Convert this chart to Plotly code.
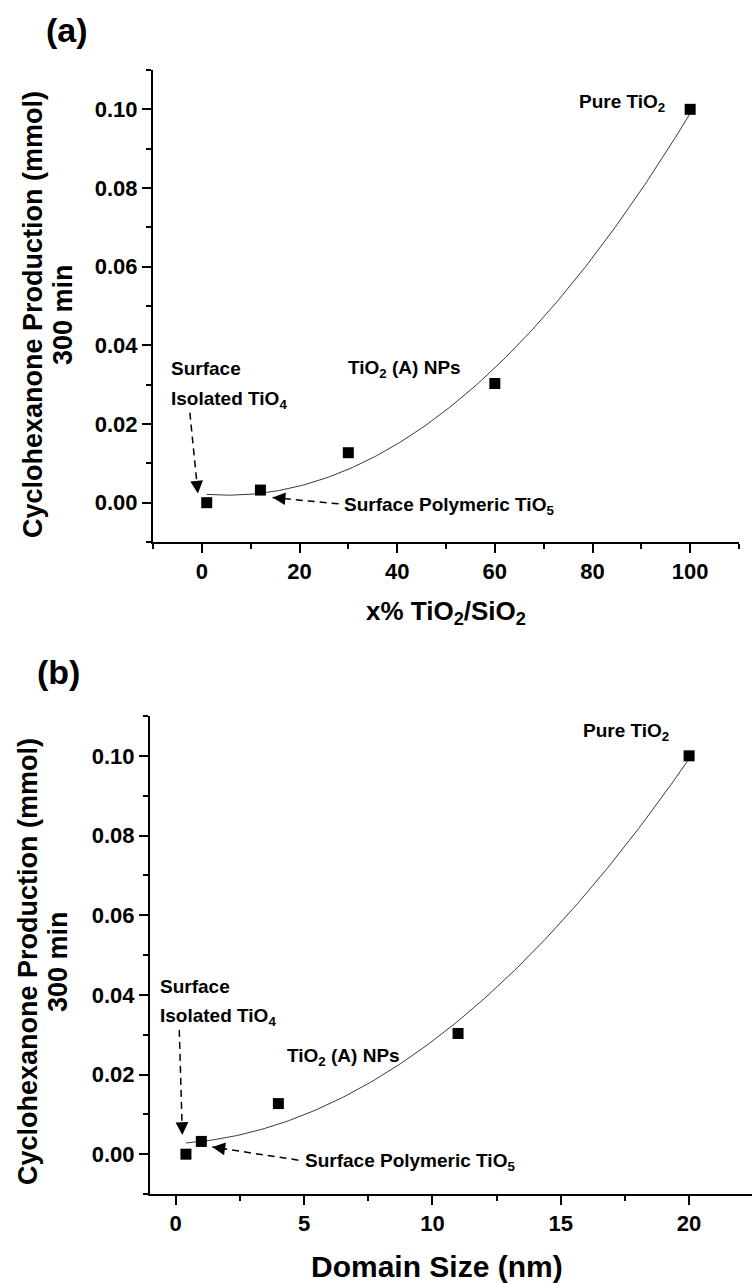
import numpy as np
import plotly.graph_objects as go

# Ti loading (x% TiO2/SiO2), TiO2 domain size (nm) and cyclohexanone produced after 300 min (mmol)
ti_loading_pct = [1, 12, 30, 60, 100]
domain_size_nm = [0.4, 1.0, 4.0, 11.0, 20.0]
cyclohexanone_mmol = [0.0, 0.0032, 0.0127, 0.0303, 0.100]

y_ticks = [0.00, 0.02, 0.04, 0.06, 0.08, 0.10]
y_tick_text = ["0.00", "0.02", "0.04", "0.06", "0.08", "0.10"]

FONT = "Liberation Sans"
W, H = 752, 1283


def quad_fit(x, y, n=200):
    coef = np.polyfit(x, y, 2)
    xs = np.linspace(min(x), max(x), n)
    return xs, np.polyval(coef, xs)


fig = go.Figure()

# panel (a): loading
fx, fy = quad_fit(ti_loading_pct, cyclohexanone_mmol)
fig.add_trace(go.Scatter(x=fx, y=fy, mode="lines", line=dict(color="#3a3a3a", width=1),
                         xaxis="x", yaxis="y", hoverinfo="skip"))
fig.add_trace(go.Scatter(x=ti_loading_pct, y=cyclohexanone_mmol, mode="markers",
                         marker=dict(symbol="square", size=11, color="black"),
                         xaxis="x", yaxis="y"))

# panel (b): domain size
fx2, fy2 = quad_fit(domain_size_nm, cyclohexanone_mmol)
fig.add_trace(go.Scatter(x=fx2, y=fy2, mode="lines", line=dict(color="#3a3a3a", width=1),
                         xaxis="x2", yaxis="y2", hoverinfo="skip"))
fig.add_trace(go.Scatter(x=domain_size_nm, y=cyclohexanone_mmol, mode="markers",
                         marker=dict(symbol="square", size=11, color="black"),
                         xaxis="x2", yaxis="y2"))

tick_font = dict(family=FONT, size=22, color="black", weight="bold")


def x_axis(domain, rng, dtick, minor, anchor):
    return dict(domain=domain, range=rng, dtick=dtick, tick0=0, anchor=anchor,
                showline=True, linecolor="black", linewidth=2, mirror=False,
                ticks="outside", ticklen=9, tickwidth=2, tickcolor="black",
                minor=dict(dtick=minor, tick0=0, ticks="outside", ticklen=5,
                           tickwidth=2, tickcolor="black"),
                showgrid=False, zeroline=False, tickfont=tick_font)


def y_axis(domain, anchor):
    return dict(domain=domain, range=[-0.01, 0.11], tickvals=y_ticks, ticktext=y_tick_text,
                anchor=anchor, showline=True, linecolor="black", linewidth=2, mirror=False,
                ticks="outside", ticklen=9, tickwidth=2, tickcolor="black",
                minor=dict(dtick=0.01, tick0=-0.01, ticks="outside", ticklen=5,
                           tickwidth=2, tickcolor="black"),
                showgrid=False, zeroline=False, tickfont=tick_font)


fig.update_layout(
    width=W, height=H, margin=dict(l=0, r=0, t=0, b=0),
    paper_bgcolor="white", plot_bgcolor="white", showlegend=False,
    xaxis=x_axis([153 / W, 739 / W], [-10, 110], 20, 10, "y"),
    yaxis=y_axis([1 - 542 / H, 1 - 70 / H], "x"),
    xaxis2=x_axis([150 / W, 1.0], [-1, 22.45], 5, 2.5, "y2"),
    yaxis2=y_axis([1 - 1194 / H, 1 - 716 / H], "x2"),
)

ann = []


def paper_text(text, px, py, size, angle=0):
    ann.append(dict(text=text, x=px / W, y=1 - py / H, xref="paper", yref="paper",
                    xanchor="center", yanchor="middle", showarrow=False, textangle=angle,
                    font=dict(family=FONT, size=size, color="black", weight="bold")))


def data_text(text, x, y, axis, anchor="left", size=19):
    ann.append(dict(text=text, x=x, y=y, xref="x" + axis, yref="y" + axis,
                    xanchor=anchor, yanchor="middle", showarrow=False,
                    font=dict(family=FONT, size=size, color="black", weight="bold")))


def dashed_arrow(x0, y0, x1, y1, axis, ax, ay):
    xr, yr = "x" + axis, "y" + axis
    fig.add_shape(type="line", x0=x0, y0=y0, x1=x1, y1=y1, xref=xr, yref=yr,
                  line=dict(color="black", width=1.5, dash="7px,5px"))
    ann.append(dict(text="", x=x1, y=y1, xref=xr, yref=yr, ax=ax, ay=ay,
                    showarrow=True, arrowhead=2, arrowsize=1.7, arrowwidth=1.5,
                    arrowcolor="black", standoff=0))


# panel labels and axis titles
paper_text("(a)", 67, 30, 34)
paper_text("(b)", 58, 672, 34)
paper_text("Cyclohexanone Production (mmol)", 33, 315, 27, -90)
paper_text("300 min", 63, 315, 27, -90)
paper_text("Cyclohexanone Production (mmol)", 28, 962, 27, -90)
paper_text("300 min", 58, 962, 27, -90)
paper_text("x% TiO<sub>2</sub>/SiO<sub>2</sub>", 446, 613, 26)
paper_text("Domain Size (nm)", 437, 1266, 30)

# panel (a) labels
data_text("Pure TiO<sub>2</sub>", 76.9, 0.1015, "")
data_text("TiO<sub>2</sub> (A) NPs", 29.5, 0.0340, "")
data_text("Surface", -6.7, 0.0341, "")
data_text("Isolated TiO<sub>4</sub>", -6.7, 0.0262, "")
data_text("Surface Polymeric TiO<sub>5</sub>", 28.6, -0.0008, "")
dashed_arrow(-2.45, 0.0229, -0.8, 0.0023, "", -1.4, -14)
dashed_arrow(28.0, -0.0003, 14.5, 0.0013, "", 14, 1.3)

# panel (b) labels
data_text("Pure TiO<sub>2</sub>", 15.8, 0.1060, "2")
data_text("TiO<sub>2</sub> (A) NPs", 4.27, 0.0245, "2")
data_text("Surface", -0.67, 0.0422, "2")
data_text("Isolated TiO<sub>4</sub>", -0.67, 0.0344, "2")
data_text("Surface Polymeric TiO<sub>5</sub>", 4.97, -0.0020, "2")
dashed_arrow(0.14, 0.0312, 0.26, 0.0048, "2", -0.4, -14)
dashed_arrow(4.78, -0.0015, 1.43, 0.0018, "2", 13.8, 2.1)

fig.update_layout(annotations=ann)
fig.write_html("out.html")
